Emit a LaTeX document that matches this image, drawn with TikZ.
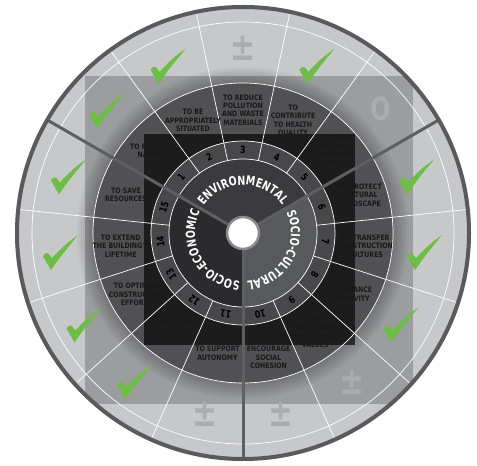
\documentclass[tikz,border=0pt]{standalone}
\usepackage{fontspec, graphicx}
\usetikzlibrary{decorations.text}

\newfontfamily\goalfont{DejaVu Sans}[FakeStretch=0.83]
\newfontfamily\numfont{DejaVu Sans}[FakeStretch=0.8]
\newfontfamily\ringfont{DejaVu Sans}[FakeStretch=0.76]
\newfontfamily\markfont{DejaVu Sans}
\newcommand{\ringlook}{\ringfont\bfseries\fontsize{12.5}{12.5}\selectfont\color{white}}

\definecolor{ringlight}{HTML}{C7C8CA}
\definecolor{goalgray}{HTML}{68686A}
\definecolor{numgray}{HTML}{48484A}
\definecolor{envgray}{HTML}{3B3B3D}
\definecolor{culgray}{HTML}{58595B}
\definecolor{ecogray}{HTML}{2B2B2D}
\definecolor{divgray}{HTML}{5E5F61}
\definecolor{bordergray}{HTML}{5A5A5C}
\definecolor{holegray}{HTML}{8A8A8C}
\definecolor{markgray}{HTML}{ABACAE}
\definecolor{tickgreen}{RGB}{108,190,69}

\tikzset{checkmark/.pic={
    \fill[tickgreen] (-18,-4) .. controls (-17,-1) and (-15,-1) .. (-13,-1)
        -- (-9,-6) .. controls (0,4) and (8,11) .. (17,17)
        .. controls (7,5) and (-2,-6) .. (-10,-18) -- cycle;}}

\begin{document}
\begin{tikzpicture}[x = 1bp, y = 1bp, % one unit is one pixel
                line join = round,
                semithick % line style
            ]

            \tikzstyle{whiteline}=[draw = white, line width = 0.7bp]
            \tikzstyle{divider}=[draw = divgray, line width = 3bp]
            \tikzstyle{goal}=[text = black!90, align = center, inner sep = 0pt,
            font = \goalfont\bfseries\fontsize{7.5}{8.5}\selectfont]
            \tikzstyle{num}=[text = black, inner sep = 0pt,
            font = \numfont\bfseries\fontsize{10}{10}\selectfont]
            \tikzstyle{plusminus}=[text = markgray, inner sep = 0pt,
            font = \markfont\bfseries\fontsize{30}{30}\selectfont]
            \tikzstyle{zero}=[text = markgray, inner sep = 0pt,
            font = \ringfont\bfseries\fontsize{32}{32}\selectfont]

            \useasboundingbox (-243,-233) rectangle (234,233);

            % outer ring and its shadow
            \fill[ringlight] (0,0) circle (228);
            \foreach \i in {0,...,7}
            \draw[black, opacity = 0.03, line width = {(8-\i)*4bp}] (0,0) circle (150);
            \fill[goalgray] (0,0) circle (150);

            % the two squares
            \begin{scope}
                \clip (0,0) circle (226);
                \fill[black, opacity = 0.21] (-158,-171) rectangle (170,157);
                \fill[black, opacity = 0.65] (-99,-112) rectangle (112,99);
            \end{scope}

            % number ring and the three pillars
            \fill[numgray] (0,0) circle (92);
            \fill[envgray] (0,0) -- (150:74) arc (150:30:74) -- cycle;
            \fill[culgray] (0,0) -- (30:74) arc (30:-90:74) -- cycle;
            \fill[ecogray] (0,0) -- (-90:74) arc (-90:-210:74) -- cycle;

            \foreach \r in {74,92,150,211} \draw[whiteline] (0,0) circle (\r);
            \foreach \a in {126,102,78,54,6,-18,-42,-66,-114,-138,-162,174}
            \draw[whiteline] (\a:74) -- (\a:224);
            \foreach \a in {150,30,-90} \draw[divider] (\a:17) -- (\a:225);
            \draw[draw = bordergray, line width = 4bp] (0,0) circle (226);
            \fill[white, draw = holegray, line width = 2.5bp] (0,0) circle (16);

            \path[decorate, decoration = {text along path, text align = center,
            text = {|\ringlook|ENVIRONMENTAL}}] (150:48) arc (150:30:48);
            \path[decorate, decoration = {text along path, text align = center,
            text = {|\ringlook|SOCIO-CULTURAL}}] (30:48) arc (30:-90:48);
            \path[decorate, decoration = {text along path, text align = center,
            text = {|\ringlook|SOCIO-ECONOMIC}}] (270:48) arc (270:150:48);

            \foreach \k in {1,...,15}
            \node[num, rotate = {48-24*(\k-1)}] (n\k) at ({138-24*(\k-1)}:83) {\k};

            \foreach \k/\txt in {1/{TO RESPECT\\NATURE},
                2/{TO BE\\APPROPRIATELY\\SITUATED},
                3/{TO REDUCE\\POLLUTION\\AND WASTE\\MATERIALS},
                4/{TO\\CONTRIBUTE\\TO HEALTH\\QUALITY},
                5/{TO REDUCE\\NATURAL\\HAZARDS\\EFFECTS},
                6/{TO PROTECT\\CULTURAL\\LANDSCAPE},
                7/{TO TRANSFER\\CONSTRUCTION\\CULTURES},
                8/{TO ENHANCE\\CREATIVITY},
                9/{TO\\RECOGNISE\\INTANGIBLE\\VALUES},
                10/{TO\\ENCOURAGE\\SOCIAL\\COHESION},
                11/{TO SUPPORT\\AUTONOMY},
                12/{TO PROMOTE\\LOCAL\\ACTIVITIES},
                13/{TO OPTIMISE\\CONSTRUCTION\\EFFORTS},
                14/{TO EXTEND\\THE BUILDING'S\\LIFETIME},
                15/{TO SAVE\\RESOURCES}}
            \node[goal] (g\k) at ({138-24*(\k-1)}:123) {\txt};

            % assessment marks
            \foreach \k in {1,2,4,6,7,8,12,13,14,15}
            \pic (m\k) at ({138-24*(\k-1)}:183) {checkmark};
            \foreach \k in {3,9,10,11}
            \node[plusminus] (m\k) at ({138-24*(\k-1)}:185) {\scalebox{1}[1.3]{±}};
            \node[zero] (m5) at (42:185) {O};

        \end{tikzpicture}
\end{document}
